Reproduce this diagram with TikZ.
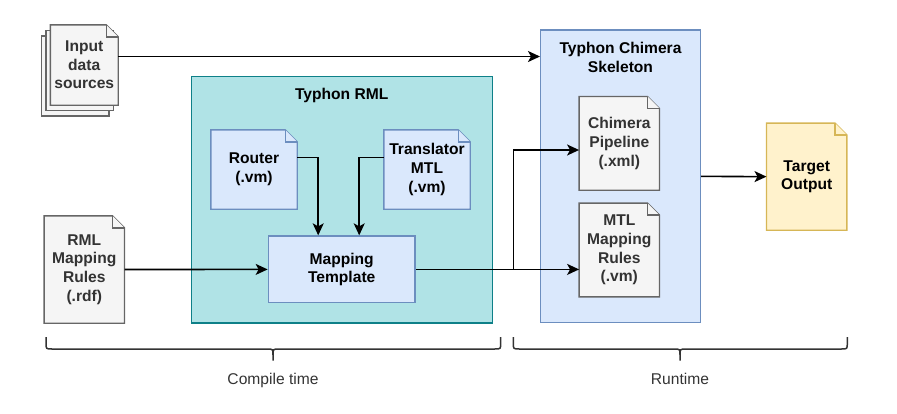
\documentclass[tikz,border=0pt]{standalone}
\usepackage{fontspec}
\setmainfont{Liberation Sans}
\usetikzlibrary{arrows.meta,calc}
\pgfdeclarelayer{bgg}
\pgfdeclarelayer{bg}
\pgfsetlayers{bgg,bg,main}
\definecolor{tealfill}{HTML}{B0E3E6}
\definecolor{tealline}{HTML}{0E8088}
\definecolor{bluefill}{HTML}{DAE8FC}
\definecolor{blueline}{HTML}{6C8EBF}
\definecolor{grayfill}{HTML}{F5F5F5}
\definecolor{grayline}{HTML}{666666}
\definecolor{graytext}{HTML}{333333}
\definecolor{yelfill}{HTML}{FFF2CC}
\definecolor{yelline}{HTML}{D6B656}
\newcommand\docshape[2]{%
  \begin{pgfonlayer}{bg}
  \draw[#2] (#1.north west) -- ([xshift=-12pt]#1.north east) -- ([yshift=-12pt]#1.north east) -- (#1.south east) -- (#1.south west) -- cycle;
  \draw[#2] ([xshift=-12pt]#1.north east) -- ([xshift=-12pt,yshift=-12pt]#1.north east) -- ([yshift=-12pt]#1.north east);
  \end{pgfonlayer}}
\begin{document}
\begin{tikzpicture}[x=1pt,y=-1pt,
  txt/.style={align=center,inner sep=0pt,font=\fontsize{15.6}{18.7}\selectfont\bfseries},
  plain/.style={align=center,inner sep=0pt,font=\fontsize{15.6}{18.7}\selectfont,text=graytext},
  gdoc/.style={fill=grayfill,draw=grayline,line width=1.4pt},
  bdoc/.style={fill=bluefill,draw=blueline,line width=1.4pt},
  ydoc/.style={fill=yelfill,draw=yelline,line width=1.4pt},
  arr/.style={line width=1.6pt,-{Stealth[length=12pt,width=11pt,inset=3pt]}},
  brace/.style={line width=1.5pt,draw=graytext}]
\useasboundingbox (0,0) rectangle (897,413);
% containers
\begin{pgfonlayer}{bgg}
\node[fill=tealfill,draw=tealline,line width=1.4pt,minimum width=301pt,minimum height=246.5pt,inner sep=0pt] (rmlbox) at (342,199.75) {};
\node[fill=bluefill,draw=blueline,line width=1.4pt,minimum width=159.6pt,minimum height=292.7pt,inner sep=0pt] (skel) at (620.5,176.35) {};
\end{pgfonlayer}
\node[txt] (rmltitle) at (341.7,95) {Typhon RML};
\node[txt] (skeltitle) at (620.5,57.5) {Typhon Chimera\\Skeleton};
% input data sources (stacked)
\begin{pgfonlayer}{bg}
\draw[gdoc] (41.5,36) rectangle (109,116);
\draw[gdoc] (46,30.5) rectangle (113.5,110.5);
\end{pgfonlayer}
\node[txt,text=graytext,minimum width=67.5pt,minimum height=80pt] (in) at (84.25,65) {Input\\data\\sources};
\docshape{in}{gdoc}
% RML mapping rules
\node[txt,text=graytext,minimum width=80pt,minimum height=107pt] (rmlrules) at (84.3,269.5) {RML\\Mapping\\Rules\\(.rdf)};
\docshape{rmlrules}{gdoc}
% router & translator
\node[txt,minimum width=86pt,minimum height=79pt] (router) at (254,169.5) {Router\\(.vm)};
\docshape{router}{bdoc}
\node[txt,minimum width=86pt,minimum height=79pt] (trans) at (427,169.5) {Translator\\MTL\\(.vm)};
\docshape{trans}{bdoc}
% mapping template
\node[txt,fill=bluefill,draw=blueline,line width=1.4pt,minimum width=146.7pt,minimum height=66.7pt] (map) at (341.7,269.4) {Mapping\\Template};
% chimera docs
\node[txt,text=graytext,minimum width=80pt,minimum height=93.3pt] (pipe) at (619.3,143.35) {Chimera\\Pipeline\\(.xml)};
\docshape{pipe}{gdoc}
\node[txt,text=graytext,minimum width=80pt,minimum height=93.3pt] (mtl) at (619.3,250) {MTL\\Mapping\\Rules\\(.vm)};
\docshape{mtl}{gdoc}
% target
\node[txt,minimum width=80pt,minimum height=106.7pt] (target) at (806.7,176.65) {Target\\Output};
\docshape{target}{ydoc}
% connectors
\draw[arr] ([yshift=8.5pt]in.east) -- ([yshift=8.5pt]in.east -| skel.west);
\draw[arr] ([yshift=12pt]router.east) -| ([xshift=-23.5pt]map.north);
\draw[arr] ([yshift=12pt]trans.west) -| ([xshift=17.5pt]map.north);
\draw[arr] (rmlrules.east) -- (map.west);
\coordinate (j) at (513.3,269.4);
\draw[arr] (map.east) -- (map.east -| mtl.west);
\draw[arr] (j) |- ([yshift=-6.65pt]pipe.west);
\draw[arr] (skel.east) -- (target.west);
% braces
\draw[brace] (46,337) -- (46,343) .. controls (46,349) .. (52,349) -- (267,349) .. controls (273,349) .. (273,355) -- (273,360.5) -- (273,355) .. controls (273,349) .. (279,349) -- (494.7,349) .. controls (500.7,349) .. (500.7,343) -- (500.7,337);
\draw[brace] (513.3,337) -- (513.3,343) .. controls (513.3,349) .. (519.3,349) -- (674,349) .. controls (680,349) .. (680,355) -- (680,360.5) -- (680,355) .. controls (680,349) .. (686,349) -- (841.3,349) .. controls (847.3,349) .. (847.3,343) -- (847.3,337);
\node[plain] (ct) at (273,380) {Compile time};
\node[plain] (rt) at (680,379) {Runtime};
\end{tikzpicture}
\end{document}
